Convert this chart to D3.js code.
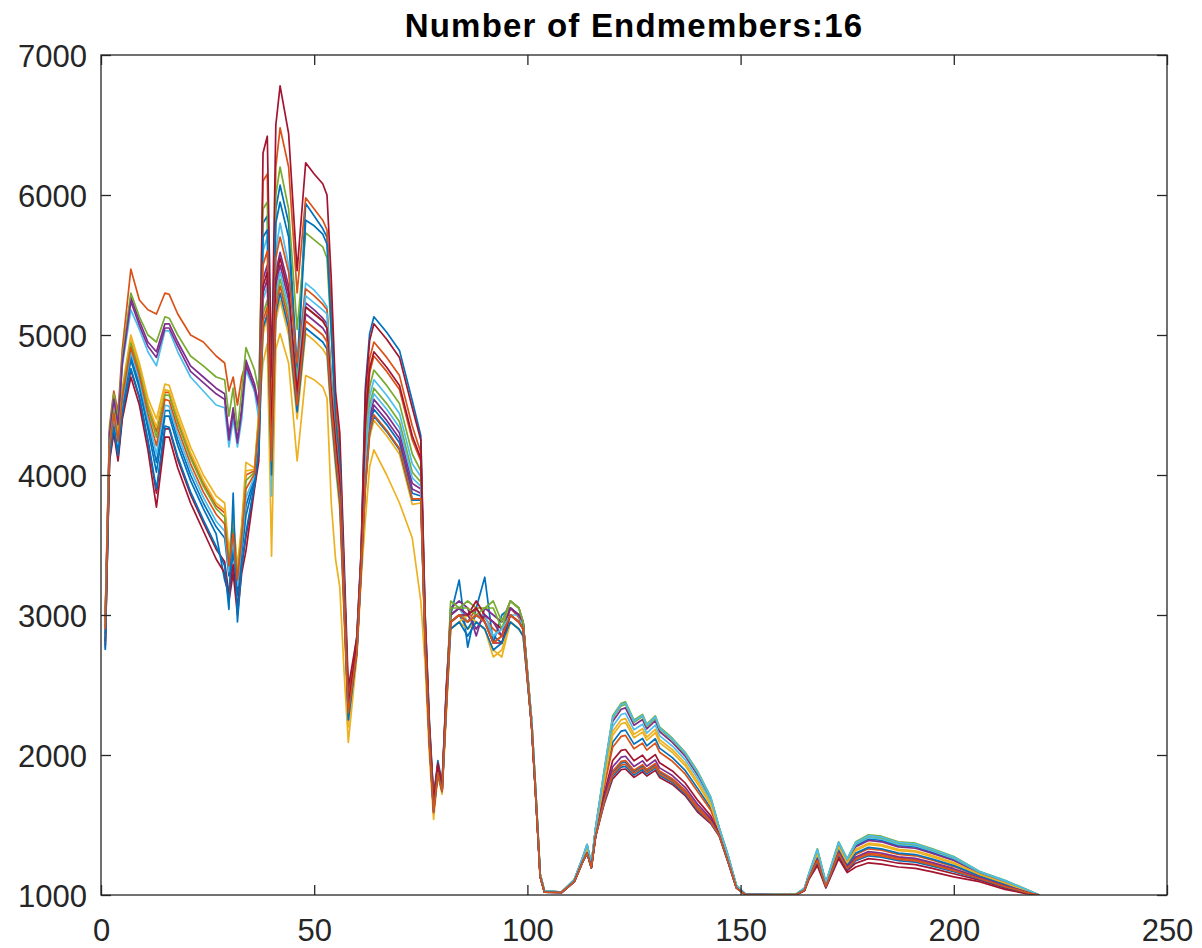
<!DOCTYPE html>
<html>
<head>
<meta charset="utf-8">
<script src="https://cdn.jsdelivr.net/npm/d3@7"></script>
<style>
html,body{margin:0;padding:0;background:#fff;}
svg{display:block;}
</style>
</head>
<body>
<svg id="chart" width="1202" height="948"></svg>
<script>
const titleText = "Number of Endmembers:16";
const xTicks = [0, 50, 100, 150, 200, 250];
const yTicks = [1000, 2000, 3000, 4000, 5000, 6000, 7000];
const seriesColors = ["#0072BD","#D95319","#EDB120","#7E2F8E","#77AC30","#4DBEEE","#A2142F",
                      "#0072BD","#D95319","#EDB120","#7E2F8E","#77AC30","#4DBEEE","#A2142F",
                      "#0072BD","#D95319"];

const bands = [1,2,3,4,5,7,9,11,13,15,16,18,21,24,27,29,30,31,32,33,34,36,37,
  38,39,40,41,42,44,46,48,50,52,53,54,55,56,57,58,
  60,61,62,63,64,67,70,73,75,76,77,78,79,80,81,
  82,84,86,88,90,92,94,96,98,99,
  101,102,103,104,108,111,113,114,115,116,
  118,120,122,123,125,127,128,130,131,134,137,140,143,145,147,149,151,
  160,163,165,166,168,170,173,175,177,180,183,187,191,195,200,206,212,217,220];

const s01 = [2760,4160,4380,4180,4490,4820,4620,4330,4020,4420,4420,4210,3960,3760,3580,3250,3150,3460,3140,3440,3710,3960,4240,
  5800,5850,4300,5900,6070,5800,4750,5940,5850,5760,5700,5100,4450,4150,3300,2380,
  2850,3450,4630,5010,5130,5020,4890,4530,4280,3020,2250,1700,1960,1800,2500,
  3000,3250,2770,3050,3270,2800,3000,3050,3000,2950,
  2220,1700,1140,1025,1020,1100,1255,1330,1210,1460,
  1789,2091,2171,2178,2078,2118,2065,2116,2049,1981,1890,1758,1620,1455,1269,1062,1008,
  1004,1004,1047,1144,1312,1084,1362,1245,1353,1400,1390,1353,1343,1305,1253,1159,1095,1036,1000];
const s02 = [3000,4350,4600,4450,4900,5470,5250,5180,5150,5300,5290,5150,5000,4950,4850,4800,4600,4700,4500,4700,4800,4600,4500,
  6100,6150,4500,6200,6480,6200,5300,5980,5900,5820,5750,5200,4500,4200,3300,2400,
  2820,3420,4450,4830,4950,4840,4710,4350,4160,2970,2200,1680,1930,1780,2460,
  2950,3000,2950,3000,2980,2900,2850,3050,2980,2900,
  2220,1700,1140,1025,1020,1100,1255,1330,1210,1460,
  1770,2055,2133,2140,2045,2085,2035,2085,2020,1955,1865,1735,1605,1450,1265,1060,1008,
  1003,1003,1040,1130,1270,1070,1320,1210,1290,1330,1320,1290,1280,1248,1203,1133,1073,1025,1000];
const s03 = [2950,4250,4500,4300,4620,5000,4800,4550,4400,4650,4640,4450,4200,4000,3850,3800,3450,3700,3350,3650,4090,4050,4450,
  4800,4940,3420,4900,5010,4800,4100,4710,4680,4630,4550,3800,3400,3200,2600,2090,
  2700,3250,3680,4060,4180,4000,3800,3550,3100,2650,2000,1540,1850,1720,2300,
  2900,2950,2900,2950,2900,2750,2700,2950,2900,2850,
  2220,1700,1140,1025,1020,1100,1255,1330,1210,1460,
  1816,2141,2223,2231,2123,2163,2105,2159,2088,2018,1924,1790,1641,1461,1275,1064,1008,
  1003,1003,1043,1136,1288,1076,1338,1225,1317,1360,1350,1317,1307,1272,1224,1144,1082,1030,1000];
const s04 = [2970,4300,4560,4380,4820,5270,5100,4950,4880,5080,5080,4950,4780,4700,4620,4580,4280,4480,4250,4480,4820,4650,4500,
  5400,5500,4300,5450,5590,5350,4540,5230,5180,5120,5080,4650,4250,3950,3150,2300,
  2750,3340,4040,4420,4540,4430,4300,3940,3900,2850,2120,1610,1880,1750,2380,
  3050,3100,3050,2850,3050,3000,2950,3100,3050,2950,
  2250,1720,1150,1030,1020,1110,1270,1360,1220,1480,
  1868,2240,2327,2337,2213,2253,2187,2245,2168,2090,1992,1854,1683,1475,1286,1068,1010,
  1004,1004,1046,1142,1306,1082,1356,1240,1344,1390,1380,1344,1334,1297,1246,1155,1092,1034,1000];
const s05 = [2980,4320,4580,4400,4850,5300,5130,5000,4950,5130,5120,5000,4850,4780,4700,4680,4420,4620,4320,4600,4910,4750,4600,
  5900,5950,4400,6000,6200,5900,5040,5730,5680,5630,5550,5000,4400,4100,3250,2350,
  2780,3380,4250,4630,4750,4640,4510,4150,4030,2910,2160,1650,1900,1760,2420,
  3100,3050,3100,3050,3050,3100,2950,3100,3050,2950,
  2250,1720,1150,1030,1020,1110,1270,1360,1220,1480,
  1890,2280,2370,2380,2250,2290,2220,2280,2200,2120,2020,1880,1700,1480,1290,1070,1010,
  1005,1005,1050,1150,1330,1090,1380,1260,1380,1430,1420,1380,1370,1330,1275,1170,1105,1040,1000];
const s06 = [2950,4280,4530,4350,4780,5180,5040,4880,4780,5030,5030,4880,4700,4600,4500,4480,4200,4400,4200,4400,4750,4600,4400,
  5600,5700,3850,5600,5800,5500,4700,5370,5320,5250,5200,4700,4300,4000,3200,2300,
  2770,3370,4180,4560,4680,4570,4440,4080,3990,2890,2150,1640,1900,1760,2410,
  3000,3050,2950,3000,3000,2850,2900,3000,3000,2900,
  2250,1720,1150,1030,1020,1110,1270,1360,1220,1480,
  1849,2204,2289,2298,2180,2220,2157,2214,2139,2064,1967,1831,1668,1470,1282,1067,1009,
  1005,1005,1048,1146,1318,1086,1368,1250,1362,1410,1400,1362,1352,1314,1261,1163,1099,1037,1000];
const s07 = [2810,4120,4330,4130,4430,4750,4550,4240,3870,4330,4330,4110,3860,3660,3470,3380,3150,3360,3050,3350,3560,3920,4150,
  6300,6420,4700,6500,6780,6440,5460,6230,6150,6080,6000,5400,4600,4300,3400,2480,
  2840,3440,4580,4960,5080,4970,4840,4480,4250,3010,2230,1690,1940,1790,2480,
  3000,3050,3000,3100,3000,2950,2900,3050,3000,2950,
  2200,1680,1130,1020,1018,1095,1240,1300,1195,1420,
  1720,1961,2033,2039,1959,1999,1957,2003,1944,1886,1800,1674,1565,1437,1255,1056,1006,
  1001,1001,1033,1116,1228,1056,1278,1175,1227,1260,1250,1227,1217,1190,1152,1106,1050,1015,1000];
const s08 = [2870,4180,4400,4200,4510,4850,4650,4370,4090,4460,4460,4250,4000,3800,3630,3550,3280,3500,3180,3480,3780,3980,4280,
  5700,5750,4300,5800,5950,5700,4700,5820,5780,5720,5650,5050,4400,4100,3250,2350,
  2740,3320,3970,4350,4470,4360,4230,3870,3850,2820,2100,1600,1870,1740,2360,
  2950,3000,2900,3000,2950,2850,2800,3000,2950,2900,
  2200,1680,1130,1020,1018,1095,1240,1300,1195,1420,
  1674,1875,1943,1948,1881,1921,1887,1929,1876,1823,1741,1619,1529,1426,1245,1052,1006,
  1003,1003,1041,1132,1276,1072,1326,1215,1299,1340,1330,1299,1289,1256,1210,1136,1076,1027,1000];
const s09 = [2920,4230,4470,4270,4590,4960,4760,4500,4310,4590,4590,4390,4140,3940,3780,3730,3400,3640,3300,3600,4000,4030,4400,
  5500,5600,4400,5550,5700,5450,4800,5330,5280,5220,5180,4700,4300,4000,3200,2350,
  2790,3390,4350,4730,4850,4740,4610,4250,4100,2940,2170,1660,1910,1770,2440,
  2950,3000,2950,3050,2950,2800,2850,3000,2950,2900,
  2200,1680,1130,1020,1018,1095,1240,1300,1195,1420,
  1680,1886,1954,1960,1891,1931,1896,1939,1885,1831,1749,1626,1534,1428,1246,1053,1006,
  1002,1002,1037,1124,1252,1064,1302,1195,1263,1300,1290,1263,1253,1223,1181,1121,1063,1021,1000];
const s10 = [2930,4240,4480,4280,4600,4970,4770,4510,4340,4610,4600,4410,4160,3960,3800,3750,3420,3660,3320,3620,4030,4040,4420,
  5000,5150,4000,5100,5250,5000,4400,5010,4960,4900,4850,4400,4050,3750,3000,2200,
  2720,3290,3890,4270,4390,4280,4150,3790,3800,2800,2080,1580,1870,1740,2340,
  2900,2950,3000,2950,2900,2700,2750,2950,2900,2850,
  2220,1700,1140,1025,1020,1100,1255,1330,1210,1460,
  1830,2168,2251,2260,2148,2188,2128,2183,2110,2038,1943,1808,1653,1465,1278,1065,1009,
  1004,1004,1044,1138,1294,1078,1344,1230,1326,1370,1360,1326,1316,1281,1232,1148,1086,1031,1000];
const s11 = [2960,4290,4540,4360,4800,5240,5070,4920,4840,5050,5050,4920,4740,4660,4580,4540,4250,4450,4230,4450,4780,4620,4480,
  5300,5400,4200,5350,5500,5250,4550,5150,5100,5050,5000,4550,4200,3900,3100,2280,
  2740,3330,4000,4380,4500,4390,4260,3900,3870,2830,2110,1600,1880,1740,2370,
  3000,3050,3000,2900,3000,2950,2850,3050,3000,2950,
  2200,1680,1130,1020,1018,1095,1240,1300,1195,1420,
  1696,1916,1985,1991,1918,1958,1920,1964,1908,1853,1769,1645,1546,1431,1250,1054,1006,
  1002,1002,1038,1126,1258,1066,1308,1200,1272,1310,1300,1272,1262,1231,1188,1125,1066,1022,1000];
const s12 = [2920,4220,4460,4260,4580,4940,4740,4480,4270,4570,4570,4370,4120,3920,3760,3700,3380,3620,3280,3580,3960,4020,4380,
  5150,5250,4200,5250,5400,5150,4700,5200,5150,5100,5050,4550,4200,3900,3100,2300,
  2760,3360,4120,4500,4620,4510,4380,4020,3950,2870,2140,1630,1890,1750,2400,
  3050,3050,3050,3000,3050,3050,2900,3100,3050,2950,
  2250,1720,1150,1030,1020,1110,1270,1360,1220,1480,
  1880,2262,2351,2361,2234,2274,2205,2264,2186,2107,2008,1868,1692,1478,1288,1069,1010,
  1005,1005,1049,1148,1324,1088,1374,1255,1371,1420,1410,1371,1361,1322,1268,1166,1102,1039,1000];
const s13 = [2880,4190,4420,4220,4530,4880,4680,4400,4150,4500,4490,4290,4040,3840,3670,3600,3310,3540,3210,3510,3840,3990,4310,
  5250,5350,4100,5300,5450,5200,4650,5280,5230,5180,5150,4650,4250,3950,3150,2250,
  2760,3350,4080,4460,4580,4470,4340,3980,3920,2860,2130,1620,1890,1750,2390,
  2950,3000,2950,3000,2950,2850,2900,3000,2950,2900,
  2250,1720,1150,1030,1020,1110,1270,1360,1220,1480,
  1885,2271,2361,2370,2242,2282,2213,2272,2193,2113,2014,1874,1696,1479,1289,1070,1010,
  1005,1005,1049,1149,1326,1089,1376,1257,1375,1424,1414,1375,1365,1325,1271,1168,1103,1039,1000];
const s14 = [2780,4100,4300,4100,4400,4700,4500,4180,3770,4270,4270,4050,3800,3600,3400,3300,3100,3300,3000,3300,3460,3900,4100,
  5350,5450,4300,5400,5550,5300,4600,5200,5150,5100,5050,4600,4250,3950,3150,2350,
  2800,3400,4380,4760,4880,4770,4640,4280,4120,2950,2180,1670,1920,1770,2450,
  2950,3000,3000,3050,2950,2800,2800,3000,2950,2900,
  2200,1680,1130,1020,1018,1095,1240,1300,1195,1420,
  1650,1830,1895,1900,1840,1880,1850,1890,1840,1790,1710,1590,1510,1420,1240,1050,1005,
  1000,1000,1030,1110,1210,1050,1260,1160,1200,1230,1220,1200,1190,1165,1130,1095,1040,1010,1000];
const s15 = [2750,4130,4340,4140,4440,4760,4560,4250,3900,4350,4340,4130,3880,3680,3490,3350,3040,3870,2950,3350,3590,3930,4170,
  5050,5150,4000,5150,5300,5050,4450,5050,5000,4950,4900,4450,4100,3800,3050,2250,
  2730,3300,3920,4300,4420,4310,4180,3820,3820,2810,2090,1590,1870,1740,2350,
  2900,2950,2850,2950,2900,2750,2800,2950,2900,2850,
  2200,1680,1130,1020,1018,1095,1240,1300,1195,1420,
  1660,1848,1914,1919,1856,1896,1865,1906,1854,1803,1722,1602,1518,1422,1242,1051,1005,
  1001,1001,1035,1120,1240,1060,1290,1185,1245,1280,1270,1245,1235,1206,1166,1114,1056,1018,1000];
const s16 = [2900,4200,4440,4240,4550,4910,4710,4440,4210,4540,4530,4330,4080,3880,3720,3650,3350,3580,3250,3550,3900,4010,4350,
  5100,5200,4100,5200,5350,5100,4500,5100,5050,5000,4950,4500,4150,3850,3050,2300,
  2730,3310,3930,4310,4430,4320,4190,3830,3830,2810,2090,1590,1870,1740,2350,
  2950,3000,2950,3000,2950,2800,2850,3000,2950,2900,
  2200,1680,1130,1020,1018,1095,1240,1300,1195,1420,
  1667,1862,1928,1934,1869,1909,1876,1917,1865,1813,1732,1610,1523,1424,1244,1051,1005,
  1002,1002,1036,1122,1246,1062,1296,1190,1254,1290,1280,1254,1244,1215,1174,1118,1060,1019,1000];

const allSeries = [s01,s02,s03,s04,s05,s06,s07,s08,s09,s10,s11,s12,s13,s14,s15,s16];

const L = 101, R = 1167, T = 55, B = 895;
const svg = d3.select("#chart");
const x = d3.scaleLinear().domain([0, 250]).range([L, R]);
const y = d3.scaleLinear().domain([1000, 7000]).range([B, T]);
const axisColor = "#262626";
const fontFam = "'Liberation Sans', Arial, Helvetica, sans-serif";

svg.append("defs").append("clipPath").attr("id", "clip")
  .append("rect").attr("x", L).attr("y", T - 2).attr("width", R - L).attr("height", B - T + 2);

const line = d3.line().x((d, i) => x(bands[i])).y(d => y(d));
const g = svg.append("g").attr("clip-path", "url(#clip)");
allSeries.forEach((s, i) => {
  g.append("path").datum(s)
    .attr("d", line)
    .attr("fill", "none")
    .attr("stroke", seriesColors[i])
    .attr("stroke-width", 1.7)
    .attr("stroke-linejoin", "round");
});

// axes (ticks inward on all sides)
const tickLen = 10;
const axB = svg.append("g").attr("transform", `translate(0,${B})`)
  .call(d3.axisBottom(x).tickValues(xTicks).tickSize(-tickLen).tickFormat(d3.format("d")));
const axT = svg.append("g").attr("transform", `translate(0,${T})`)
  .call(d3.axisTop(x).tickValues(xTicks).tickSize(-tickLen).tickFormat(""));
const axL = svg.append("g").attr("transform", `translate(${L},0)`)
  .call(d3.axisLeft(y).tickValues(yTicks).tickSize(-tickLen).tickFormat(d3.format("d")));
const axR = svg.append("g").attr("transform", `translate(${R},0)`)
  .call(d3.axisRight(y).tickValues(yTicks).tickSize(-tickLen).tickFormat(""));
[axB, axT, axL, axR].forEach(a => {
  a.select(".domain").remove();
  a.selectAll(".tick line").attr("stroke", axisColor).attr("stroke-width", 1.3);
  a.selectAll("text").attr("fill", axisColor).style("font-family", fontFam).style("font-size", "31px");
});
axB.selectAll(".tick text").attr("dy", null).attr("y", 46);
axL.selectAll(".tick text").attr("dy", "0.36em").attr("x", -14);

svg.append("rect").attr("x", L).attr("y", T).attr("width", R - L).attr("height", B - T)
  .attr("fill", "none").attr("stroke", axisColor).attr("stroke-width", 1.3);

svg.append("text").attr("x", (L + R) / 2).attr("y", 37)
  .attr("text-anchor", "middle")
  .style("font-family", fontFam).style("font-size", "33px").style("font-weight", "bold")
  .style("letter-spacing", "1.2px")
  .attr("fill", "#000").text(titleText);
</script>
</body>
</html>
